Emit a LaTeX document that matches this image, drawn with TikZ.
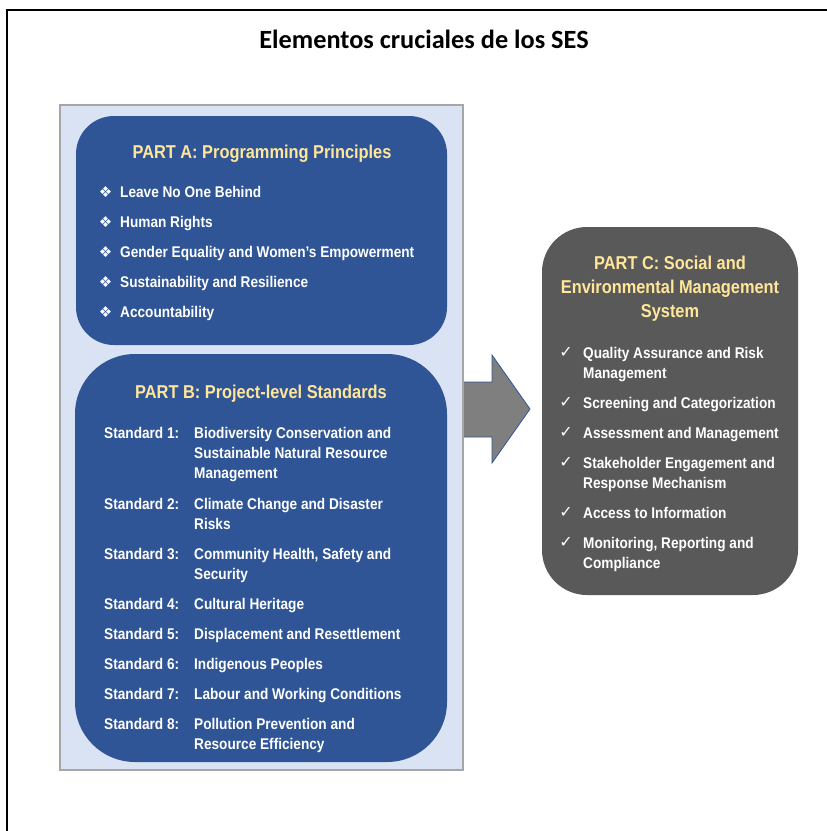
\documentclass[tikz,border=0pt]{standalone}
\usepackage{fontspec}
\newfontfamily\boxfont{Liberation Sans}[FakeStretch=0.88]
\newfontfamily\titlefont{Carlito}
\newfontfamily\symbolfont{DejaVu Sans}
\definecolor{panelblue}{HTML}{DAE3F3}
\definecolor{panelborder}{HTML}{A6A6A6}
\definecolor{partblue}{HTML}{2F5597}
\definecolor{partgray}{HTML}{595959}
\definecolor{headyellow}{HTML}{FFE699}
\definecolor{arrowgray}{HTML}{7F7F7F}

\begin{document}
\begin{tikzpicture}[x=1pt,y=-1pt,
  partbox/.style={rectangle, rounded corners=#1, inner sep=0pt},
  heading/.style={font=\boxfont\bfseries\fontsize{18.6}{24}\selectfont, text=headyellow, align=center, inner sep=0pt},
  entry/.style={font=\boxfont\bfseries\fontsize{15.5}{20}\selectfont, text=white, align=left, anchor=north west, inner sep=0pt},
  bulletmark/.style={font=\symbolfont\fontsize{15}{15}\selectfont, text=white, inner sep=0pt},
  tickmark/.style={font=\symbolfont\fontsize{16}{16}\selectfont, text=white, inner sep=0pt}]

  \useasboundingbox (0,0) rectangle (827,831);

% define the frame and the title
  \draw[line width=2pt] (7,831) -- (7,10) -- (827,10);
  \node[font=\titlefont\bfseries\fontsize{26.3}{30}\selectfont, anchor=base] (title) at (424,48)
{Elementos cruciales de los SES};

% define the arrow between the panel and part C
  \filldraw[fill=arrowgray, draw=partblue, line width=0.8pt] (464,382) -- (492,382) -- (492,355)
     -- (530,409) -- (492,463) -- (492,437) -- (464,437);

% define the panel with parts A and B
  \node[rectangle, fill=panelblue, draw=panelborder, line width=1.5pt, minimum width=403, minimum height=665] (panel) at (261.5,437.5) {};

  \node[partbox=38pt, fill=partblue, minimum width=371, minimum height=229] (partA) at (261.5,230.5) {};
  \node[heading, anchor=base] (headA) at (262,158.6)
{PART A: Programming Principles};
  \node[bulletmark] (ba1) at (105.5,192) {❖};
  \node[entry, anchor=base west] (a1) at (120,197.5) {Leave No One Behind};
  \node[bulletmark] (ba2) at (105.5,222) {❖};
  \node[entry, anchor=base west] (a2) at (120,227.5) {Human Rights};
  \node[bulletmark] (ba3) at (105.5,252) {❖};
  \node[entry, anchor=base west] (a3) at (120,257.5) {Gender Equality and Women’s Empowerment};
  \node[bulletmark] (ba4) at (105.5,282) {❖};
  \node[entry, anchor=base west] (a4) at (120,287.5) {Sustainability and Resilience};
  \node[bulletmark] (ba5) at (105.5,312) {❖};
  \node[entry, anchor=base west] (a5) at (120,317.5) {Accountability};

  \node[partbox=60pt, fill=partblue, minimum width=372, minimum height=408] (partB) at (261,558) {};
  \node[heading, anchor=base] (headB) at (261,398.6)
{PART B: Project-level Standards};
  \node[entry] (s1) at (104,424.5) {\strut Standard 1:};
  \node[entry] (d1) at (194,424.5) {\strut Biodiversity Conservation and\\Sustainable Natural Resource\\Management};
  \node[entry] (s2) at (104,495.5) {\strut Standard 2:};
  \node[entry] (d2) at (194,495.5) {\strut Climate Change and Disaster\\Risks};
  \node[entry] (s3) at (104,545.5) {\strut Standard 3:};
  \node[entry] (d3) at (194,545.5) {\strut Community Health, Safety and\\Security};
  \node[entry] (s4) at (104,595.5) {\strut Standard 4:};
  \node[entry] (d4) at (194,595.5) {\strut Cultural Heritage};
  \node[entry] (s5) at (104,625.5) {\strut Standard 5:};
  \node[entry] (d5) at (194,625.5) {\strut Displacement and Resettlement};
  \node[entry] (s6) at (104,655.5) {\strut Standard 6:};
  \node[entry] (d6) at (194,655.5) {\strut Indigenous Peoples};
  \node[entry] (s7) at (104,685.5) {\strut Standard 7:};
  \node[entry] (d7) at (194,685.5) {\strut Labour and Working Conditions};
  \node[entry] (s8) at (104,715.5) {\strut Standard 8:};
  \node[entry] (d8) at (194,715.5) {\strut Pollution Prevention and\\Resource Efficiency};

% define part C
  \node[partbox=45pt, fill=partgray, minimum width=256, minimum height=368] (partC) at (670,411) {};
  \node[heading, anchor=north] (headC) at (670,252.8)
{\strut PART C: Social and\\Environmental Management\\System};
  \node[tickmark] (kc1) at (566,352) {✓};
  \node[entry] (c1) at (583,344.5) {\strut Quality Assurance and Risk\\Management};
  \node[tickmark] (kc2) at (566,402) {✓};
  \node[entry] (c2) at (583,394.5) {\strut Screening and Categorization};
  \node[tickmark] (kc3) at (566,432) {✓};
  \node[entry] (c3) at (583,424.5) {\strut Assessment and Management};
  \node[tickmark] (kc4) at (566,462) {✓};
  \node[entry] (c4) at (583,454.5) {\strut Stakeholder Engagement and\\Response Mechanism};
  \node[tickmark] (kc5) at (566,512) {✓};
  \node[entry] (c5) at (583,504.5) {\strut Access to Information};
  \node[tickmark] (kc6) at (566,542) {✓};
  \node[entry] (c6) at (583,534.5) {\strut Monitoring, Reporting and\\Compliance};

\end{tikzpicture}
\end{document}
